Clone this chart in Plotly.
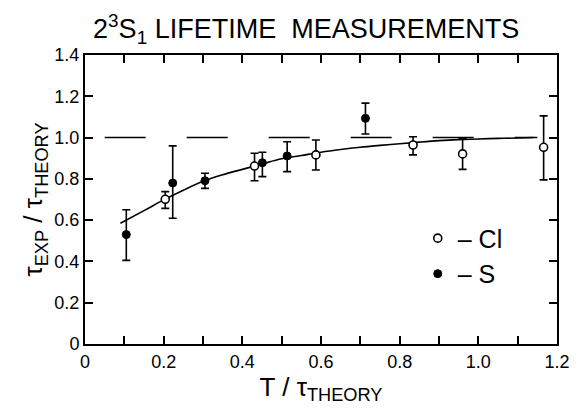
import plotly.graph_objects as go

# ---- data ----
cl_x = [0.204, 0.431, 0.587, 0.834, 0.960, 1.166]
cl_y = [0.701, 0.862, 0.916, 0.964, 0.921, 0.953]
cl_err_plus = [0.037, 0.062, 0.072, 0.040, 0.076, 0.152]
cl_err_minus = [0.044, 0.071, 0.073, 0.048, 0.075, 0.158]

s_x = [0.105, 0.223, 0.305, 0.451, 0.514, 0.713]
s_y = [0.530, 0.780, 0.791, 0.878, 0.911, 1.093]
s_err_plus = [0.120, 0.180, 0.036, 0.051, 0.069, 0.074]
s_err_minus = [0.125, 0.171, 0.037, 0.067, 0.076, 0.076]

curve_x = [0.09, 0.15, 0.20, 0.25, 0.30, 0.35, 0.40, 0.45, 0.50, 0.55, 0.60,
           0.65, 0.70, 0.75, 0.80, 0.85, 0.90, 0.95, 1.00, 1.05, 1.10, 1.14]
curve_y = [0.585, 0.646, 0.698, 0.745, 0.788, 0.820, 0.846, 0.872, 0.897, 0.913,
           0.929, 0.942, 0.953, 0.962, 0.970, 0.978, 0.985, 0.990, 0.993, 0.996,
           0.998, 1.000]

ref_x = [0.05, 1.15]
ref_y = [1.0, 1.0]

x_tick_vals = [0, 0.2, 0.4, 0.6, 0.8, 1.0, 1.2]
x_tick_text = ["0", "0.2", "0.4", "0.6", "0.8", "1.0", "1.2"]
y_tick_vals = [0, 0.2, 0.4, 0.6, 0.8, 1.0, 1.2, 1.4]
y_tick_text = ["0", "0.2", "0.4", "0.6", "0.8", "1.0", "1.2", "1.4"]

FONT = "Liberation Sans"
NARROW = "Liberation Sans Narrow, Liberation Sans, sans-serif"

fig = go.Figure()

fig.add_trace(go.Scatter(
    x=ref_x, y=ref_y, mode="lines",
    line=dict(color="black", width=1.6, dash="41px,41px"),
    showlegend=False, hoverinfo="skip"))

fig.add_trace(go.Scatter(
    x=curve_x, y=curve_y, mode="lines", line_shape="spline",
    line=dict(color="black", width=1.6),
    showlegend=False, hoverinfo="skip"))

fig.add_trace(go.Scatter(
    x=cl_x, y=cl_y, mode="markers", name="– Cl",
    marker=dict(symbol="circle", size=8, color="white",
                line=dict(color="black", width=1.6)),
    error_y=dict(type="data", symmetric=False, array=cl_err_plus,
                 arrayminus=cl_err_minus, color="black", thickness=1.6, width=4)))

fig.add_trace(go.Scatter(
    x=s_x, y=s_y, mode="markers", name="– S",
    marker=dict(symbol="circle", size=8, color="black",
                line=dict(color="black", width=1)),
    error_y=dict(type="data", symmetric=False, array=s_err_plus,
                 arrayminus=s_err_minus, color="black", thickness=1.6, width=4)))

fig.update_layout(
    width=582, height=412,
    margin=dict(l=85, r=12, t=55, b=68),
    paper_bgcolor="white", plot_bgcolor="white",
    font=dict(family=FONT, color="black", size=18),
    title=dict(text="2<sup>3</sup>S<sub>1</sub> LIFETIME  MEASUREMENTS",
               x=0.526, xref="container", xanchor="center",
               y=0.93, yref="container", yanchor="middle",
               font=dict(family=NARROW, size=27, color="black")),
    legend=dict(x=0.705, y=0.445, xanchor="left", yanchor="top",
                bgcolor="rgba(0,0,0,0)", borderwidth=0,
                font=dict(family=NARROW, size=25, color="black"),
                itemwidth=30, tracegroupgap=0),
    xaxis=dict(range=[0, 1.2], tickvals=x_tick_vals, ticktext=x_tick_text,
               ticks="inside", ticklen=8, tickwidth=1.6, tickcolor="black",
               minor=dict(dtick=0.1, tick0=0, ticks="inside", ticklen=8,
                          tickwidth=1.6, tickcolor="black", showgrid=False),
               showline=True, linewidth=2, linecolor="black", mirror="ticks",
               showgrid=False, zeroline=False,
               tickfont=dict(family=FONT, size=18),
               title=dict(text="T / τ<sub>THEORY</sub>",
                          font=dict(family=FONT, size=26), standoff=6)),
    yaxis=dict(range=[0, 1.4], tickvals=y_tick_vals, ticktext=y_tick_text,
               ticks="inside", ticklen=8, tickwidth=1.6, tickcolor="black",
               showline=True, linewidth=2, linecolor="black", mirror="ticks",
               showgrid=False, zeroline=False,
               tickfont=dict(family=FONT, size=18),
               title=dict(text="τ<sub>EXP</sub> / τ<sub>THEORY</sub>",
                          font=dict(family=FONT, size=26), standoff=4)),
)

fig.write_html("out.html",
               config={"displayModeBar": False},
               post_script="document.body.style.margin='0';"
                           "document.body.style.overflow='hidden';")
